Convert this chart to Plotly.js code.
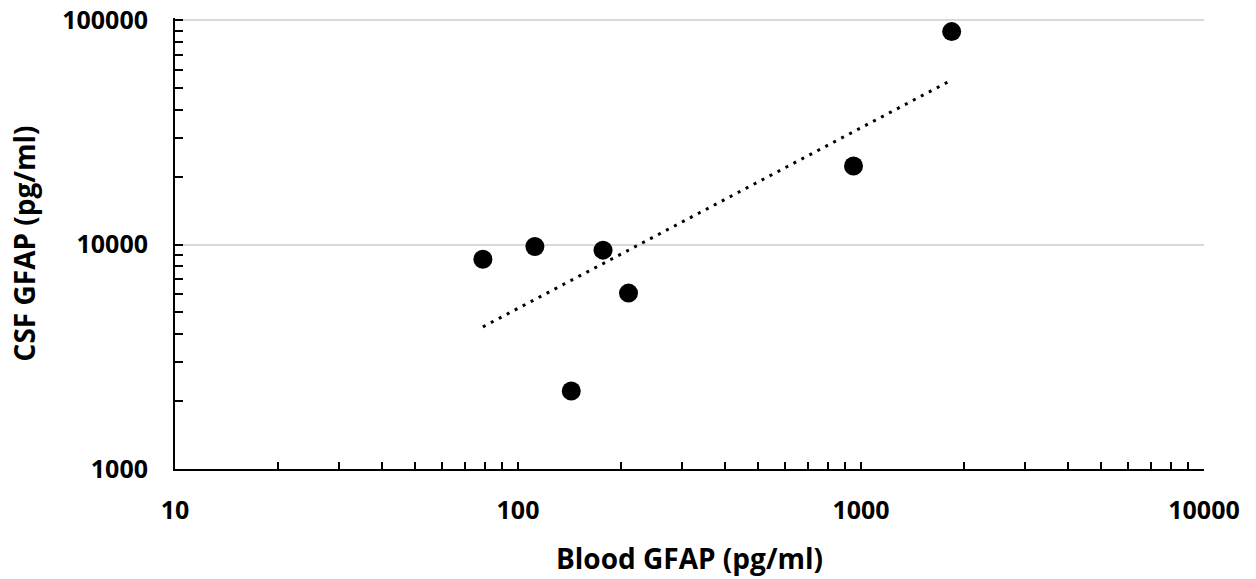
<!DOCTYPE html>
<html>
<head>
<meta charset="utf-8">
<script src="https://cdn.plot.ly/plotly-3.0.1.min.js"></script>
<style>html,body{margin:0;padding:0;background:#fff;}#chart{width:1256px;height:579px;}</style>
</head>
<body>
<div id="chart"></div>
<script>
// Data
const bloodGFAP = [79, 112, 143, 177, 210, 951, 1838];
const csfGFAP = [8610, 9800, 2225, 9450, 6080, 22400, 89000];
const trendX = [79, 1790];
const trendY = [4300, 53000];
const xTickVals = [10, 100, 1000, 10000];
const xTickText = ['10', '100', '1000', '10000'];
const yTickVals = [1000, 10000, 100000];
const yTickText = ['1000', '10000', '100000'];

const FONT = 'Open Sans, Liberation Sans, sans-serif';

const traces = [
  {
    x: trendX, y: trendY, type: 'scatter', mode: 'lines',
    line: {color: '#000', width: 3, dash: '3px,6px'},
    hoverinfo: 'skip', showlegend: false
  },
  {
    x: bloodGFAP, y: csfGFAP, type: 'scatter', mode: 'markers',
    marker: {color: '#000', size: 19},
    showlegend: false
  }
];

const layout = {
  width: 1256, height: 579,
  margin: {l: 175, r: 52, t: 18, b: 110},
  paper_bgcolor: '#fff', plot_bgcolor: '#fff',
  showlegend: false,
  xaxis: {
    type: 'log', range: [1, 4],
    tickvals: xTickVals, ticktext: xTickText,
    ticks: 'inside', ticklen: 7, tickwidth: 2, tickcolor: '#000',
    showline: true, linecolor: '#000', linewidth: 2,
    showgrid: false, zeroline: false,
    tickfont: {family: FONT, size: 25, color: '#000', weight: 700},
    ticklabelstandoff: 18,
    minor: {ticks: 'inside', ticklen: 7, tickwidth: 2, tickcolor: '#000', dtick: 'D1', showgrid: false},
    title: {text: 'Blood GFAP (pg/ml)', font: {family: FONT, size: 28, color: '#000', weight: 700}, standoff: 24},
    automargin: false
  },
  yaxis: {
    type: 'log', range: [3, 5.01],
    tickvals: yTickVals, ticktext: yTickText,
    ticks: 'inside', ticklen: 8, tickwidth: 2, tickcolor: '#000',
    showline: true, linecolor: '#000', linewidth: 2,
    showgrid: true, gridcolor: '#d9d9d9', gridwidth: 2, zeroline: false,
    tickfont: {family: FONT, size: 25, color: '#000', weight: 700},
    ticklabelstandoff: 20,
    minor: {ticks: 'inside', ticklen: 8, tickwidth: 2, tickcolor: '#000', dtick: 'D1', showgrid: false},
    title: {text: 'CSF GFAP (pg/ml)', font: {family: FONT, size: 28, color: '#000', weight: 700}, standoff: 18},
    automargin: false
  }
};

Plotly.newPlot('chart', traces, layout, {displayModeBar: false, staticPlot: true});
</script>
</body>
</html>
